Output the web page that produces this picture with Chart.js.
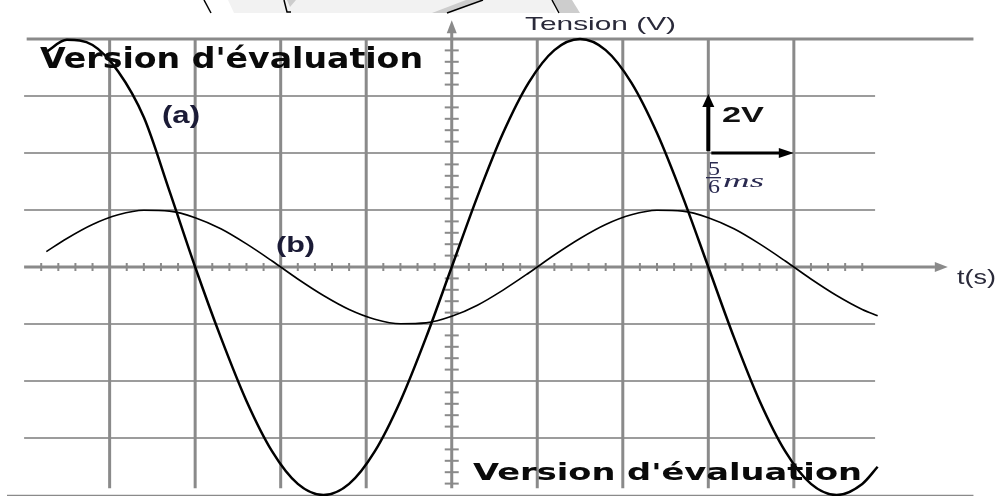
<!DOCTYPE html>
<html>
<head>
<meta charset="utf-8">
<script src="https://cdn.jsdelivr.net/npm/chart.js@4.4.1/dist/chart.umd.min.js"></script>
<style>
  html, body { margin: 0; padding: 0; background: #fff; }
  #osc { display: block; }
</style>
</head>
<body>
<canvas id="osc" width="998" height="496"></canvas>
<script>
// échelles de l'oscillogramme
const divTime = 5 / 6;   // ms par division
const divVolt = 2;       // V par division

// temps (ms) des points relevés
const times = [-3.95, -3.75, -3.5, -3.25, -3.0, -2.75, -2.5, -2.25, -2.0, -1.75, -1.5, -1.25,
               -1.0, -0.75, -0.5, -0.25, 0, 0.25, 0.5, 0.75, 1.0, 1.25, 1.5, 1.75,
               2.0, 2.25, 2.5, 2.75, 3.0, 3.25, 3.5, 3.75, 4.0, 4.15];

// courbe (a) en V
const tensionA = [7.55, 7.97, 7.79, 6.86, 5.25, 2.66, 0, -2.47, -4.70, -6.47, -7.61, -8.00,
                  -7.61, -6.47, -4.70, -2.47, 0, 2.47, 4.70, 6.47, 7.61, 8.00, 7.61, 6.47,
                  4.70, 2.47, 0, -2.47, -4.70, -6.47, -7.61, -8.00, -7.61, -7.01];

// courbe (b) en V
const tensionB = [0.54, 1.00, 1.49, 1.83, 1.99, 1.96, 1.73, 1.34, 0.81, 0.21, -0.42, -1.00,
                  -1.49, -1.83, -1.99, -1.96, -1.73, -1.34, -0.81, -0.21, 0.42, 1.00, 1.49, 1.83,
                  1.99, 1.96, 1.73, 1.34, 0.81, 0.21, -0.42, -1.00, -1.49, -1.71];

const gridX = [-4, -3, -2, -1, 1, 2, 3, 4];   // divisions verticales
const gridY = [-3, -2, -1, 1, 2, 3];          // divisions horizontales

function toPoints(ys) {
    return times.map((t, i) => ({ x: t, y: ys[i] }));
}

function line(ctx, x0, y0, x1, y1) {
    ctx.beginPath();
    ctx.moveTo(x0, y0);
    ctx.lineTo(x1, y1);
    ctx.stroke();
}

function arrowHead(ctx, x, y, dir, len, half) {
    ctx.beginPath();
    if (dir === 'right') {
        ctx.moveTo(x, y); ctx.lineTo(x - len, y - half); ctx.lineTo(x - len, y + half);
    } else {
        ctx.moveTo(x, y); ctx.lineTo(x - half, y + len); ctx.lineTo(x + half, y + len);
    }
    ctx.closePath();
    ctx.fill();
}

// texte étiré horizontalement (l'image d'origine est élargie)
function fitText(ctx, text, x0, x1, base, font, color) {
    ctx.save();
    ctx.font = font;
    const w = ctx.measureText(text).width;
    ctx.translate(x0, base);
    ctx.scale((x1 - x0) / w, 1);
    ctx.fillStyle = color;
    ctx.textBaseline = 'alphabetic';
    ctx.fillText(text, 0, 0);
    ctx.restore();
}

const gridPlugin = {
    id: 'oscGrid',
    beforeDatasetsDraw(chart) {
        const ctx = chart.ctx;
        const xs = chart.scales.x, ys = chart.scales.y;
        const px = d => xs.getPixelForValue(d * divTime);
        const py = d => ys.getPixelForValue(d * divVolt);
        ctx.save();

        // restes de la figure du dessus
        ctx.fillStyle = '#f2f2f2';
        ctx.beginPath();
        ctx.moveTo(228, 0); ctx.lineTo(552, 0); ctx.lineTo(556, 13); ctx.lineTo(234, 13);
        ctx.fill();
        ctx.fillStyle = '#cdcdcd';
        ctx.beginPath();
        ctx.moveTo(432, 13); ctx.lineTo(447, 13); ctx.lineTo(483, 0); ctx.lineTo(466, 0);
        ctx.fill();
        ctx.beginPath();
        ctx.moveTo(553, 0); ctx.lineTo(572, 0); ctx.lineTo(580, 13); ctx.lineTo(560, 13);
        ctx.fill();
        ctx.beginPath();
        ctx.moveTo(287, 0); ctx.lineTo(296, 0); ctx.lineTo(290, 7);
        ctx.fill();
        ctx.strokeStyle = '#000';
        ctx.lineWidth = 1.5;
        line(ctx, 204, 0, 211, 13);
        ctx.beginPath();
        ctx.moveTo(284, 0); ctx.lineTo(287, 12); ctx.lineTo(291, 12);
        ctx.stroke();
        line(ctx, 447, 13, 483, 0);
        line(ctx, 552, 0, 559, 13);

        // lignes horizontales intérieures
        ctx.strokeStyle = '#9c9c9c';
        ctx.lineWidth = 2;
        gridY.forEach(d => line(ctx, px(-5), py(d), px(4.95), py(d)));

        // lignes verticales
        ctx.strokeStyle = '#8a8a8a';
        ctx.lineWidth = 3;
        gridX.forEach(d => line(ctx, px(d), py(4), px(d), py(-3.88)));

        // cadre haut et bas
        line(ctx, px(-4.97), py(4), px(6.1), py(4));
        line(ctx, px(-5.2), py(-4.02), px(6.1), py(-4.02));

        // axe des temps
        ctx.fillStyle = '#8a8a8a';
        line(ctx, px(-5), py(0), px(5.65), py(0));
        arrowHead(ctx, px(5.8), py(0), 'right', 13, 5);
        ctx.lineWidth = 2;
        for (let k = -24; k <= 24; k++) {
            if (k % 5 === 0) continue;
            const x = px(k / 5);
            line(ctx, x, py(0) - 4, x, py(0) + 4);
        }

        // axe des tensions
        ctx.lineWidth = 3;
        line(ctx, px(0), py(-3.88), px(0), py(4.2));
        arrowHead(ctx, px(0), py(4.33), 'up', 13, 5);
        ctx.lineWidth = 2;
        for (let k = -19; k <= 19; k++) {
            if (k % 5 === 0) continue;
            const y = py(k / 5);
            line(ctx, px(0) - 7, y, px(0) + 7, y);
        }
        ctx.restore();
    },
    afterDatasetsDraw(chart) {
        const ctx = chart.ctx;
        const xs = chart.scales.x, ys = chart.scales.y;
        ctx.save();

        // échelle : 2V / 5/6 ms
        const x0 = xs.getPixelForValue(3 * divTime);
        const y0 = ys.getPixelForValue(2 * divVolt);
        const yTop = ys.getPixelForValue(3 * divVolt);
        const xEnd = xs.getPixelForValue(4 * divTime);
        ctx.strokeStyle = '#000';
        ctx.fillStyle = '#000';
        ctx.lineWidth = 4;
        line(ctx, x0, y0 - 2, x0, yTop + 10);
        arrowHead(ctx, x0, yTop - 2, 'up', 13, 6);
        ctx.lineWidth = 3;
        line(ctx, x0 + 3, y0, xEnd - 12, y0);
        arrowHead(ctx, xEnd, y0, 'right', 15, 5);

        const lab = '#1b1b36';
        fitText(ctx, 'Tension (V)', 525, 676, 30, '19px "Liberation Sans", Arial', '#2a2a3a');
        fitText(ctx, 't(s)', 957, 996, 284, '20px "Liberation Sans", Arial', '#2a2a3a');
        fitText(ctx, '(a)', 162, 200, 123, 'bold 23px "Liberation Sans", Arial', lab);
        fitText(ctx, '(b)', 276, 315, 252, 'bold 22px "Liberation Sans", Arial', lab);
        fitText(ctx, '2V', 722, 764, 122, 'bold 22px "Liberation Sans", Arial', '#111');

        // 5/6 ms
        const fr = '#2a2a50';
        fitText(ctx, '5', 708, 720, 175, '19px "Liberation Serif", serif', fr);
        ctx.fillStyle = fr;
        ctx.fillRect(706, 177, 15, 1.3);
        fitText(ctx, '6', 708, 720, 193, '19px "Liberation Serif", serif', fr);
        fitText(ctx, 'ms', 723, 764, 187, 'italic 19px "Liberation Serif", serif', fr);

        // filigranes
        fitText(ctx, "Version d'évaluation", 40, 423, 68, 'bold 28px "DejaVu Sans"', '#0a0a0a');
        fitText(ctx, "Version d'évaluation", 473, 862, 480, 'bold 23px "DejaVu Sans"', '#0a0a0a');
        ctx.restore();
    }
};

new Chart(document.getElementById('osc').getContext('2d'), {
    type: 'line',
    data: {
        datasets: [
            {
                label: '(a)',
                data: toPoints(tensionA),
                borderColor: '#000',
                borderWidth: 2.5,
                pointRadius: 0,
                cubicInterpolationMode: 'monotone',
                clip: false
            },
            {
                label: '(b)',
                data: toPoints(tensionB),
                borderColor: '#000',
                borderWidth: 1.6,
                pointRadius: 0,
                cubicInterpolationMode: 'monotone',
                clip: false
            }
        ]
    },
    options: {
        responsive: false,
        animation: false,
        layout: { padding: { left: 7, right: 16, top: 0, bottom: 0 } },
        plugins: { legend: { display: false }, tooltip: { enabled: false } },
        scales: {
            x: { type: 'linear', display: false, min: -5.2 * divTime, max: 6.2 * divTime },
            y: { type: 'linear', display: false, min: -8.035, max: 9.368 }
        }
    },
    plugins: [gridPlugin]
});
</script>
</body>
</html>
